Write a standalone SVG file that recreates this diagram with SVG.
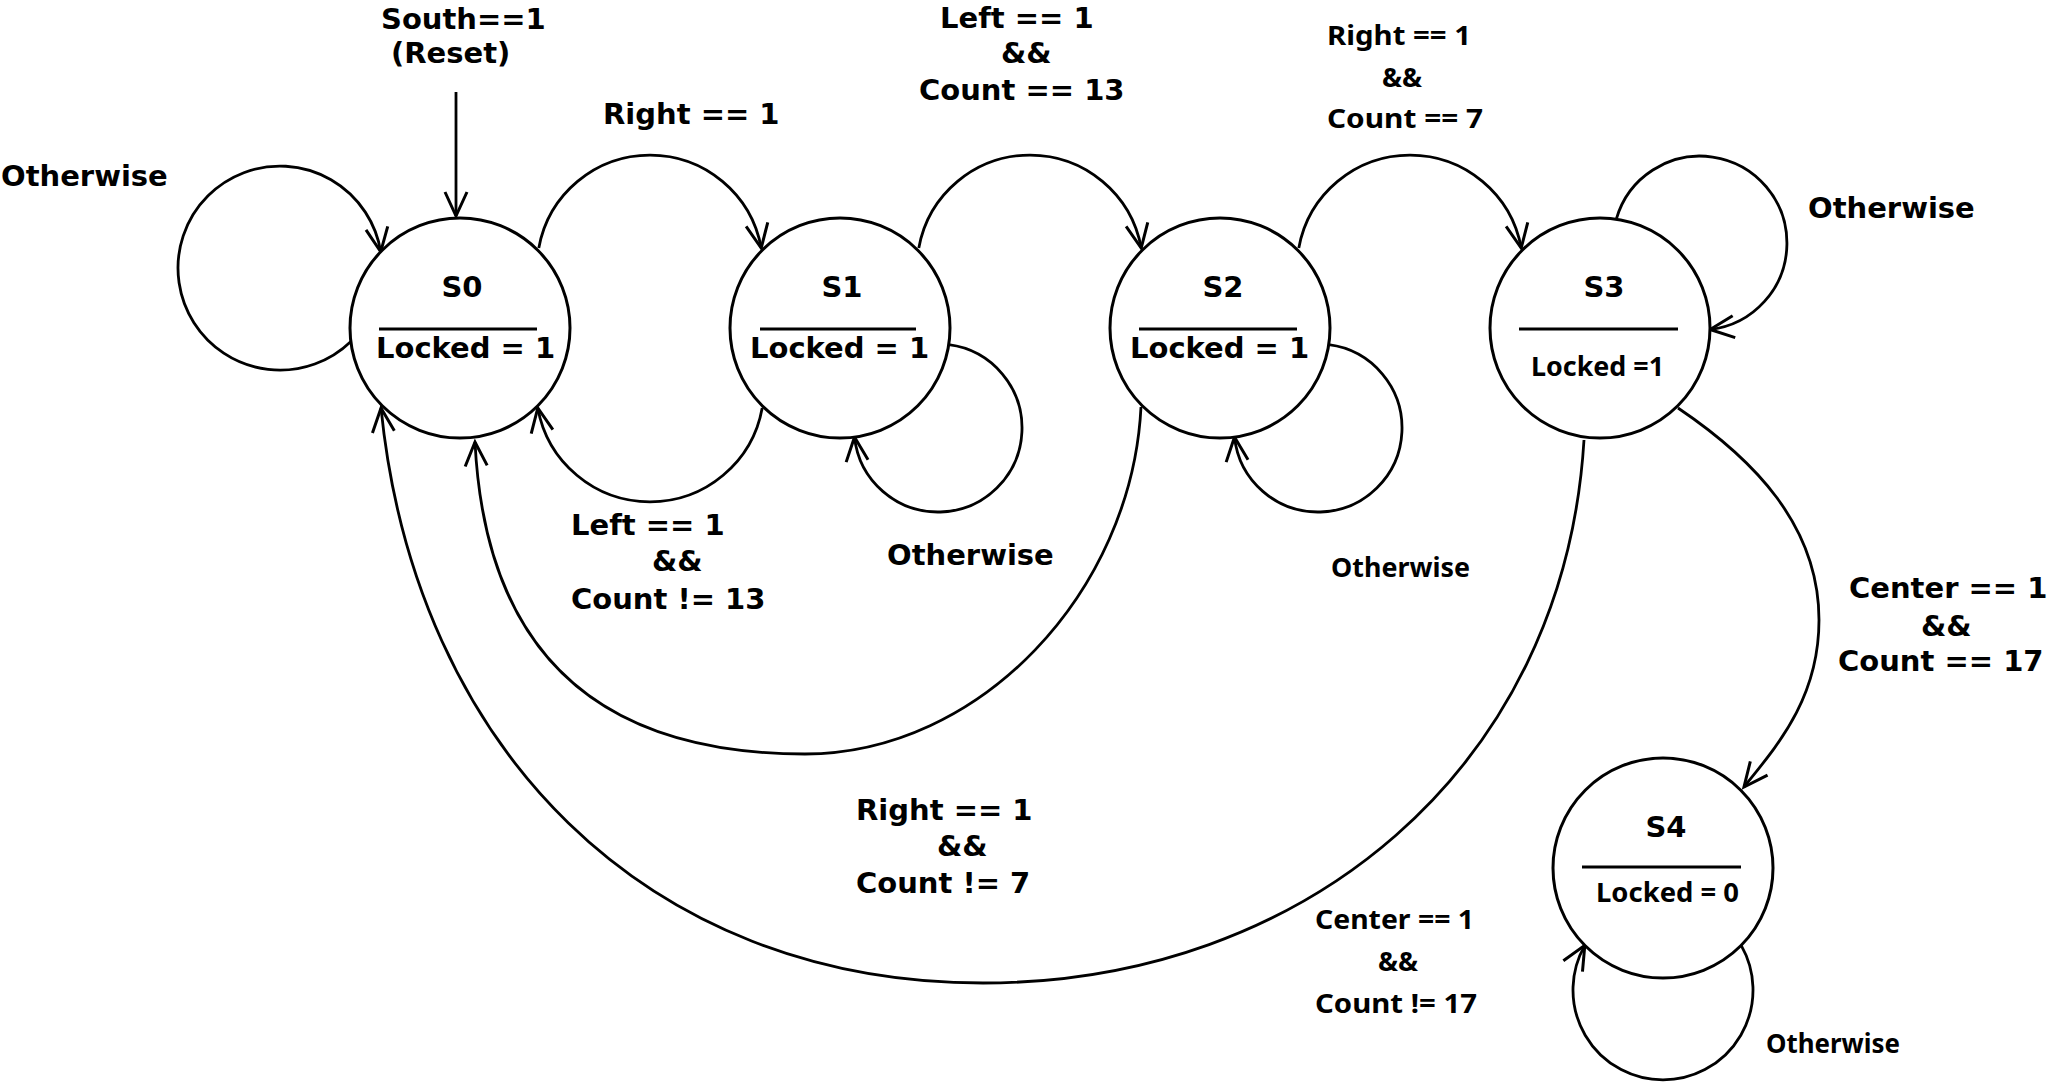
<svg xmlns="http://www.w3.org/2000/svg" width="2048" height="1083" viewBox="0 0 2048 1083">
<defs>
<style>
.node{fill:#fff;stroke:#000;stroke-width:3}
.div{stroke:#000;stroke-width:3}
.edge{fill:none;stroke:#000;stroke-width:2.8;marker-end:url(#arr)}
.b{font-family:"DejaVu Sans","Liberation Sans",sans-serif;font-weight:bold;font-size:29px;fill:#000}
.t{font-family:"Noto Sans","Open Sans","DejaVu Sans",sans-serif;font-weight:bold;font-size:26px;fill:#000}
</style>
<marker id="arr" viewBox="-30 -15 32 30" refX="0" refY="0" markerWidth="32" markerHeight="30" markerUnits="userSpaceOnUse" orient="auto" overflow="visible">
<path d="M -24 -11 L 0 0 L -24 11" fill="none" stroke="#000" stroke-width="3"/>
</marker>
</defs>
<rect width="2048" height="1083" fill="#fff"/>

<g id="connectors">
<path class="edge" d="M 456 92 L 456 216"/>
<path class="edge" d="M 350.9 341.4 A 102 102 0 1 1 380.7 251.8"/>
<path class="edge" d="M 538.8 248 A 113 113 0 0 1 761.2 248"/>
<path class="edge" d="M 918.8 248 A 113 113 0 0 1 1141.2 248"/>
<path class="edge" d="M 1298.8 248 A 113 113 0 0 1 1521.2 248"/>
<path class="edge" d="M 762.2 408 A 114 114 0 0 1 537.8 408"/>
<path class="edge" d="M 948.7 344.7 A 84 84 0 1 1 854.5 437.1"/>
<path class="edge" d="M 1328.7 344.7 A 84 84 0 1 1 1234.5 437.1"/>
<path class="edge" d="M 1616.3 219.1 A 87 87 0 1 1 1710.1 329.5"/>
<path class="edge" d="M 1741.2 945.4 A 90 90 0 1 1 1584.8 945.4"/>
<path class="edge" d="M 1141 407 C 1131.8 592 980 754 805 754 C 590 754 485 645 475 442"/>
<path class="edge" d="M 1584 440 C 1564 770 1303 983 983 983 C 646 983 415 748 381 408"/>
<path class="edge" d="M 1678 408 C 1752.7 458.4 1819 525 1819 620 C 1819 700 1775 748 1744 787"/>
</g>

<g id="edge-labels">
<text class="b" x="381" y="29">South==1</text>
<text class="b" x="391" y="63">(Reset)</text>
<text class="b" x="1" y="186">Otherwise</text>
<text class="b" x="603" y="124">Right == 1</text>
<text class="b" x="940" y="28">Left == 1</text>
<text class="b" x="1001" y="63">&amp;&amp;</text>
<text class="b" x="919" y="100">Count == 13</text>
<text class="t" x="1327" y="45" textLength="144" lengthAdjust="spacingAndGlyphs">Right == 1</text>
<text class="t" x="1382" y="87" textLength="40" lengthAdjust="spacingAndGlyphs">&amp;&amp;</text>
<text class="t" x="1327" y="128" textLength="156" lengthAdjust="spacingAndGlyphs">Count == 7</text>
<text class="b" x="1808" y="218">Otherwise</text>
<text class="b" x="571" y="535">Left == 1</text>
<text class="b" x="652" y="571">&amp;&amp;</text>
<text class="b" x="571" y="609">Count != 13</text>
<text class="b" x="887" y="565">Otherwise</text>
<text class="t" x="1331" y="577" textLength="139" lengthAdjust="spacingAndGlyphs">Otherwise</text>
<text class="b" x="1849" y="598">Center == 1</text>
<text class="b" x="1921" y="636">&amp;&amp;</text>
<text class="b" x="1838" y="671">Count == 17</text>
<text class="b" x="856" y="820">Right == 1</text>
<text class="b" x="937" y="856">&amp;&amp;</text>
<text class="b" x="856" y="893">Count != 7</text>
<text class="t" x="1315" y="929" textLength="159" lengthAdjust="spacingAndGlyphs">Center == 1</text>
<text class="t" x="1378" y="971" textLength="40" lengthAdjust="spacingAndGlyphs">&amp;&amp;</text>
<text class="t" x="1315" y="1013" textLength="162" lengthAdjust="spacingAndGlyphs">Count != 17</text>
<text class="t" x="1766" y="1053" textLength="134" lengthAdjust="spacingAndGlyphs">Otherwise</text>
</g>

<g id="S0">
<circle class="node" cx="460" cy="328" r="110"/>
<line class="div" x1="379" y1="329" x2="537" y2="329"/>
<text class="b" x="462" y="297" text-anchor="middle">S0</text>
<text class="b" x="376" y="358">Locked = 1</text>
</g>
<g id="S1">
<circle class="node" cx="840" cy="328" r="110"/>
<line class="div" x1="760" y1="329" x2="916" y2="329"/>
<text class="b" x="842" y="297" text-anchor="middle">S1</text>
<text class="b" x="750" y="358">Locked = 1</text>
</g>
<g id="S2">
<circle class="node" cx="1220" cy="328" r="110"/>
<line class="div" x1="1139" y1="329" x2="1297" y2="329"/>
<text class="b" x="1223" y="297" text-anchor="middle">S2</text>
<text class="b" x="1130" y="358">Locked = 1</text>
</g>
<g id="S3">
<circle class="node" cx="1600" cy="328" r="110"/>
<line class="div" x1="1519" y1="329" x2="1678" y2="329"/>
<text class="b" x="1604" y="297" text-anchor="middle">S3</text>
<text class="t" x="1531" y="376" textLength="133" lengthAdjust="spacingAndGlyphs">Locked =1</text>
</g>
<g id="S4">
<circle class="node" cx="1663" cy="868" r="110"/>
<line class="div" x1="1582" y1="867" x2="1741" y2="867"/>
<text class="b" x="1666" y="837" text-anchor="middle">S4</text>
<text class="t" x="1596" y="902" textLength="143" lengthAdjust="spacingAndGlyphs">Locked = 0</text>
</g>
</svg>
